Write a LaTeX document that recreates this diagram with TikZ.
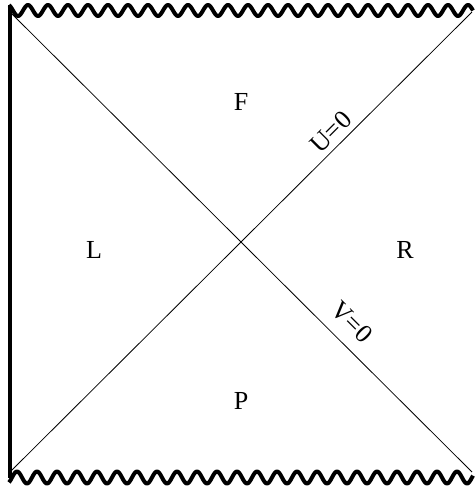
\documentclass[tikz,border=0pt]{standalone}
\usepackage{fontspec}
\setmainfont{Liberation Serif}
\begin{document}
\begin{tikzpicture}[x=1pt,y=-1pt,
  lbl/.style={font=\fontsize{26}{30}\selectfont, inner sep=0pt},
  thin line/.style={line width=0.8pt},
  thick line/.style={line width=4pt}]
\useasboundingbox (0,0) rectangle (475,488);
\coordinate (tl) at (10,12);
\coordinate (tr) at (472,12);
\coordinate (bl) at (10,472);
\coordinate (br) at (472,472);
% diagonals
\draw[thin line] (tl) -- (br);
\draw[thin line] (bl) -- (tr);
% left boundary
\draw[thick line] (10,5) -- (10,478);
% singularities
\draw[thick line, line join=round] plot[domain=9:473, samples=500, smooth] (\x, {10.5 - 5.5*cos(18*(\x-8))});
\draw[thick line, line join=round] plot[domain=9:473, samples=500, smooth] (\x, {477.5 + 6*cos(18*(\x-7))});
% labels
\node[lbl] (F) at (241,102) {F};
\node[lbl] (L) at (94,250) {L};
\node[lbl] (R) at (405,250) {R};
\node[lbl] (P) at (241,401) {P};
\node[lbl, rotate=45] (U) at (331,132) {U=0};
\node[lbl, rotate=-45] (V) at (352,322) {V=0};
\end{tikzpicture}
\end{document}
